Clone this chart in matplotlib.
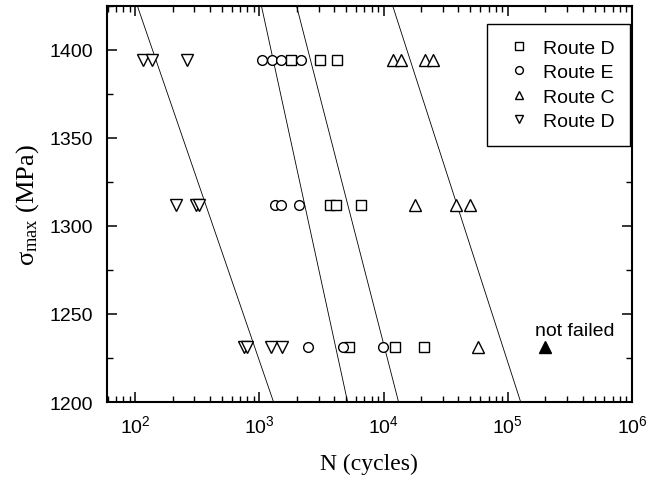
import numpy as np
import matplotlib
matplotlib.use("Agg")
import matplotlib.pyplot as plt
from matplotlib.ticker import FixedLocator, LogLocator, MultipleLocator, FuncFormatter, NullFormatter

plt.rcParams.update({
    "font.family": "Liberation Sans",
    "font.size": 14,
    "axes.linewidth": 1.5,
    "xtick.direction": "in",
    "ytick.direction": "in",
    "xtick.top": True,
    "ytick.right": True,
    "xtick.major.size": 7,
    "ytick.major.size": 7,
    "xtick.minor.size": 4,
    "ytick.minor.size": 4,
    "xtick.major.width": 1.1,
    "ytick.major.width": 1.1,
    "xtick.minor.width": 1.0,
    "ytick.minor.width": 1.0,
})

# stress levels (MPa)
s_hi, s_mid, s_lo = 1394, 1312, 1231

# cycles to failure per route
route_d_sq_N = [1780, 3050, 4180, 3670, 4100, 6530, 5220, 12300, 21000]
route_d_sq_S = [s_hi, s_hi, s_hi, s_mid, s_mid, s_mid, s_lo, s_lo, s_lo]

route_e_N = [1057, 1273, 1503, 2143, 1346, 1503, 2065, 2480, 4670, 9810]
route_e_S = [s_hi, s_hi, s_hi, s_hi, s_mid, s_mid, s_mid, s_lo, s_lo, s_lo]

route_c_N = [11800, 13700, 21400, 24800, 17800, 38000, 49400, 57300]
route_c_S = [s_hi, s_hi, s_hi, s_hi, s_mid, s_mid, s_mid, s_lo]

route_d_tri_N = [116, 137, 262, 214, 310, 328, 757, 800, 1250, 1530]
route_d_tri_S = [s_hi, s_hi, s_hi, s_mid, s_mid, s_mid, s_lo, s_lo, s_lo, s_lo]

runout_N = [200000]
runout_S = [s_lo]

# fitted S-N lines: N at the top and bottom stress of the plot
fit_S = [1425, 1200]
fit_N = [
    [104, 1300],
    [1038, 5130],
    [1990, 13200],
    [11830, 127000],
]

fig = plt.figure(figsize=(6.59, 4.85), dpi=100)
ax = fig.add_axes([0.162, 0.169, 0.797, 0.817])

for n_pair in fit_N:
    ax.plot(n_pair, fit_S, color="black", linewidth=0.6)

mk = dict(linestyle="none", markerfacecolor="white", markeredgecolor="black", markeredgewidth=1.0)
ax.plot(route_d_sq_N, route_d_sq_S, marker="s", markersize=6.5, label="Route D", **mk)
ax.plot(route_e_N, route_e_S, marker="o", markersize=7, label="Route E", **mk)
ax.plot(route_c_N, route_c_S, marker="^", markersize=8, label="Route C", **mk)
ax.plot(route_d_tri_N, route_d_tri_S, marker="v", markersize=8, label="Route D", **mk)
ax.plot(runout_N, runout_S, linestyle="none", marker="^", markersize=8, color="black")
ax.annotate("not failed", (runout_N[0], s_lo), xytext=(21, 6), textcoords="offset points",
            ha="center", va="bottom", fontsize=14)

ax.set_xscale("log")
ax.set_xlim(59, 1e6)
ax.set_ylim(1200, 1425)

ax.xaxis.set_major_locator(FixedLocator([1e2, 1e3, 1e4, 1e5, 1e6]))
ax.xaxis.set_minor_locator(LogLocator(base=10, subs=np.arange(2, 10), numticks=20))
ax.xaxis.set_minor_formatter(NullFormatter())
ax.xaxis.set_major_formatter(FuncFormatter(lambda v, p: r"$\mathregular{10^{%d}}$" % round(np.log10(v))))
ax.yaxis.set_major_locator(MultipleLocator(50))
ax.yaxis.set_minor_locator(MultipleLocator(25))
ax.tick_params(axis="x", which="major", labelsize=14, pad=9)
ax.tick_params(axis="y", which="major", labelsize=14, pad=10)

ax.set_xlabel("N (cycles)", fontfamily="Liberation Serif", fontsize=17, labelpad=12)
ax.set_ylabel(r"$\mathregular{\sigma_{max}}$ (MPa)", fontfamily="Liberation Serif", fontsize=19, labelpad=6)

leg = ax.legend(loc="upper right", bbox_to_anchor=(0.997, 0.955), borderaxespad=0, fancybox=False,
                edgecolor="black", framealpha=1, fontsize=14, handletextpad=0.4, borderpad=0.8,
                handlelength=1.7, labelspacing=0.35, markerscale=0.8)
leg.get_frame().set_linewidth(1.0)

fig.savefig("out.png", dpi=100)
